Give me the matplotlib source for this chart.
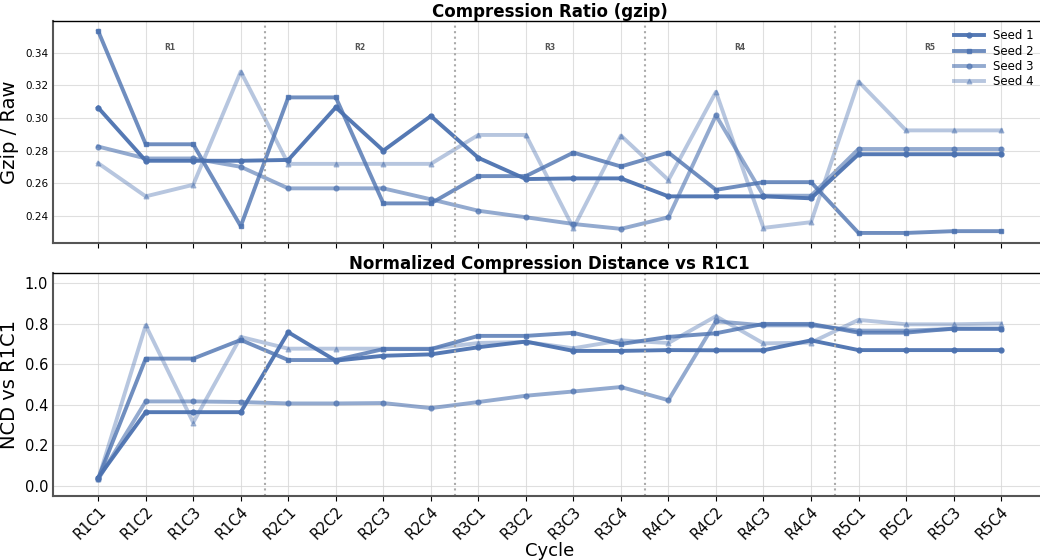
import matplotlib
matplotlib.use("Agg")
import matplotlib.pyplot as plt
import numpy as np

cycles = ["R1C1", "R1C2", "R1C3", "R1C4", "R2C1", "R2C2", "R2C3", "R2C4",
          "R3C1", "R3C2", "R3C3", "R3C4", "R4C1", "R4C2", "R4C3", "R4C4",
          "R5C1", "R5C2", "R5C3", "R5C4"]
seeds = ["Seed 1", "Seed 2", "Seed 3", "Seed 4"]
rounds = ["R1", "R2", "R3", "R4", "R5"]

# gzip / raw ratio per seed
gzip_seed1 = [0.3063, 0.2738, 0.2738, 0.2738, 0.2743, 0.3065, 0.2800, 0.3012,
              0.2756, 0.2626, 0.2630, 0.2630, 0.2520, 0.2520, 0.2520, 0.2508,
              0.2778, 0.2778, 0.2778, 0.2778]
gzip_seed2 = [0.3532, 0.2839, 0.2839, 0.2337, 0.3126, 0.3126, 0.2477, 0.2477,
              0.2644, 0.2644, 0.2788, 0.2703, 0.2788, 0.2560, 0.2607, 0.2607,
              0.2296, 0.2296, 0.2307, 0.2307]
gzip_seed3 = [0.2825, 0.2752, 0.2752, 0.2701, 0.2569, 0.2569, 0.2569, 0.2502,
              0.2432, 0.2392, 0.2351, 0.2321, 0.2392, 0.3016, 0.2524, 0.2524,
              0.2810, 0.2810, 0.2810, 0.2810]
gzip_seed4 = [0.2723, 0.2520, 0.2591, 0.3284, 0.2719, 0.2719, 0.2719, 0.2719,
              0.2896, 0.2896, 0.2325, 0.2892, 0.2620, 0.3160, 0.2327, 0.2362,
              0.3223, 0.2924, 0.2924, 0.2924]

# NCD vs R1C1 per seed
ncd_seed1 = [0.041, 0.364, 0.364, 0.364, 0.758, 0.618, 0.642, 0.649,
             0.684, 0.712, 0.666, 0.666, 0.670, 0.669, 0.669, 0.718,
             0.670, 0.670, 0.670, 0.670]
ncd_seed2 = [0.038, 0.628, 0.628, 0.720, 0.621, 0.621, 0.675, 0.675,
             0.740, 0.740, 0.755, 0.700, 0.735, 0.753, 0.799, 0.799,
             0.756, 0.756, 0.776, 0.776]
ncd_seed3 = [0.033, 0.417, 0.417, 0.414, 0.407, 0.407, 0.409, 0.384,
             0.414, 0.445, 0.466, 0.488, 0.423, 0.812, 0.792, 0.792,
             0.766, 0.766, 0.774, 0.774]
ncd_seed4 = [0.033, 0.792, 0.313, 0.735, 0.677, 0.677, 0.677, 0.677,
             0.705, 0.710, 0.679, 0.718, 0.705, 0.837, 0.703, 0.707,
             0.819, 0.797, 0.797, 0.801]

gzip_data = [gzip_seed1, gzip_seed2, gzip_seed3, gzip_seed4]
ncd_data = [ncd_seed1, ncd_seed2, ncd_seed3, ncd_seed4]

color = "#4C72B0"
alphas = [0.95, 0.8, 0.6, 0.4]
markers = ["o", "s", "o", "^"]

x = np.arange(len(cycles))
fig = plt.figure(figsize=(10.4, 5.6), dpi=100)
ax1 = fig.add_axes([0.051, 0.566, 0.955, 0.3965])
ax2 = fig.add_axes([0.051, 0.114, 0.955, 0.3985])


def style_axis(ax):
    ax.set_xlim(-0.95, 19.95)
    ax.grid(True, color="#d8d8d8", linewidth=0.8, alpha=0.8)
    ax.set_axisbelow(True)
    for side in ["left", "bottom"]:
        ax.spines[side].set_color("#555555")
        ax.spines[side].set_linewidth(1.5)
    ax.spines["top"].set_color("black")
    ax.spines["top"].set_linewidth(1.0)
    ax.spines["right"].set_visible(False)
    for b in [3.5, 7.5, 11.5, 15.5]:
        ax.axvline(b, color="#aaaaaa", linestyle=":", linewidth=1.5)
    ax.set_xticks(x)
    ax.tick_params(axis="y", length=0)


for i, (vals, name) in enumerate(zip(gzip_data, seeds)):
    ax1.plot(x, vals, color=color, alpha=alphas[i], linewidth=2.8,
             marker=markers[i], markersize=3.5, label=name)
style_axis(ax1)
ax1.set_xticklabels([])
ax1.set_ylabel("Gzip / Raw", fontsize=14)
ax1.tick_params(axis="y", labelsize=7.5)
ax1.set_title("Compression Ratio (gzip)", fontsize=12, fontweight="bold", pad=3)
for k, r in enumerate(rounds):
    ax1.text(1.5 + 4 * k, 0.88, r, transform=ax1.get_xaxis_transform(),
             ha="center", va="center", fontsize=5.5, fontweight="bold", color="#555555")
ax1.legend(loc="upper right", frameon=False, fontsize=8.5, labelspacing=0.2,
           handlelength=2.5, bbox_to_anchor=(0.998, 1.01))

for i, (vals, name) in enumerate(zip(ncd_data, seeds)):
    ax2.plot(x, vals, color=color, alpha=alphas[i], linewidth=2.8,
             marker=markers[i], markersize=3.5, label=name)
style_axis(ax2)
ax2.set_ylim(-0.05, 1.05)
ax2.set_yticks([0.0, 0.2, 0.4, 0.6, 0.8, 1.0])
ax2.tick_params(axis="y", labelsize=10.5)
ax2.tick_params(axis="x", pad=2)
ax2.set_xticklabels(cycles, rotation=45, ha="right", rotation_mode="anchor", fontsize=10.5)
ax2.set_ylabel("NCD vs R1C1", fontsize=14)
ax2.set_xlabel("Cycle", fontsize=13, labelpad=0)
ax2.set_title("Normalized Compression Distance vs R1C1", fontsize=12, fontweight="bold", pad=3)

fig.savefig("out.png", dpi=100)
